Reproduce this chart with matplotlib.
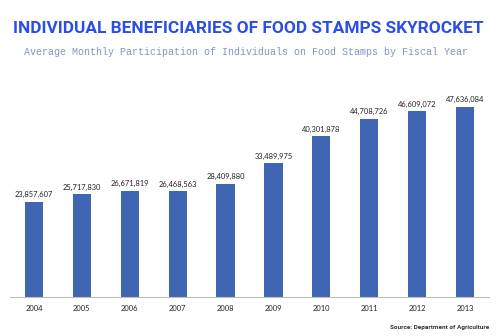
import matplotlib.pyplot as plt

years = ["2004", "2005", "2006", "2007", "2008", "2009", "2010", "2011", "2012", "2013"]
participants = [23857607, 25717830, 26671819, 26468563, 28409880,
                33489975, 40301878, 44708726, 46609072, 47636084]

fig = plt.figure(figsize=(5, 3.36), dpi=100)
fig.patch.set_facecolor("white")

ax = fig.add_axes([0.02, 0.116, 0.958, 0.616])
x = list(range(len(years)))
bars = ax.bar(x, participants, width=0.38, color="#4065b2", zorder=2)

for xi, v in zip(x, participants):
    ax.text(xi, v + 900000, f"{v:,}", ha="center", va="bottom",
            fontsize=5.4, color="#222222", family=["Lato", "DejaVu Sans"])

ax.set_xlim(-0.5, 9.5)
ax.set_ylim(0, 51.9e6)
ax.set_xticks(x)
ax.set_xticklabels(years, fontsize=5.4, color="#222222", family=["Lato", "DejaVu Sans"])
ax.tick_params(axis="x", length=0, pad=6)
ax.set_yticks([])
for side in ["top", "right", "left"]:
    ax.spines[side].set_visible(False)
ax.spines["bottom"].set_color("#bfbfbf")
ax.spines["bottom"].set_linewidth(0.8)

# titles
fig.text(0.497, 0.915, "INDIVIDUAL BENEFICIARIES OF FOOD STAMPS SKYROCKET",
         ha="center", va="center", fontsize=12.4, fontweight="bold",
         color="#2b4ee6", family=["Roboto", "DejaVu Sans"])
fig.text(0.491, 0.845, "Average Monthly Participation of Individuals on Food Stamps by Fiscal Year",
         ha="center", va="center", fontsize=7.2, color="#8494c4",
         family=["Liberation Mono", "DejaVu Sans Mono"])

fig.text(0.978, 0.025, "Source: Department of Agriculture", ha="right", va="center",
         fontsize=4.6, fontweight="bold", color="#333333",
         family=["Roboto", "DejaVu Sans"])

fig.savefig("out.png", dpi=100)
